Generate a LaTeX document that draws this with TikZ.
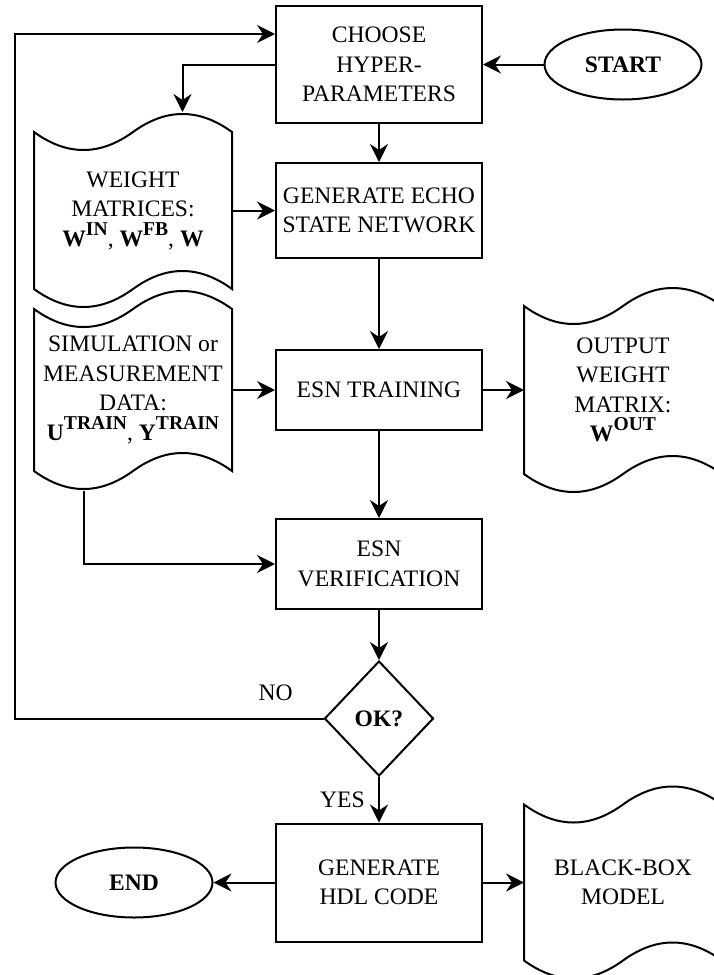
\documentclass[tikz,border=0pt]{standalone}
\usepackage{fontspec}
\setmainfont{Liberation Serif}
\usetikzlibrary{shapes.geometric,arrows.meta,calc}

% wavy document outline round a node
\newcommand{\tapepath}[1]{%
	\draw let \p1=(#1.north west), \p2=(#1.south east),
		\n1={\x2-\x1}, \n2={10pt}, \n3={12pt} in
		(\x1,\y1-\n2) .. controls (\x1+\n1/6,\y1-\n2-\n3) and (\x1+\n1/3,\y1-\n2-\n3) .. (\x1+\n1/2,\y1-\n2)
		.. controls (\x1+2*\n1/3,\y1-\n2+\n3) and (\x1+5*\n1/6,\y1-\n2+\n3) .. (\x2,\y1-\n2)
		-- (\x2,\y2+\n2)
		.. controls (\x1+5*\n1/6,\y2+\n2+\n3) and (\x1+2*\n1/3,\y2+\n2+\n3) .. (\x1+\n1/2,\y2+\n2)
		.. controls (\x1+\n1/3,\y2+\n2-\n3) and (\x1+\n1/6,\y2+\n2-\n3) .. (\x1,\y2+\n2)
		-- cycle;}
% bold matrix name with raised index
\newcommand{\mat}[2]{\textbf{#1}\raisebox{5.5pt}{\fontsize{9.8}{9.8}\selectfont\bfseries #2}}

\begin{document}
\begin{tikzpicture}[x=0.5pt,y=-0.5pt,
	font=\fontsize{11.8}{14.75}\selectfont,line width=1pt,
	>={Stealth[length=9pt,width=9pt,inset=3pt]},
	process/.style={draw,rectangle,minimum width=103pt,align=center,inner sep=1pt},
	terminal/.style={draw,ellipse,minimum width=78.5pt,minimum height=35pt,inner sep=0pt,
		font=\fontsize{11.8}{14.75}\selectfont\bfseries},
	decision/.style={draw,diamond,minimum width=54.5pt,minimum height=57.5pt,inner sep=0pt,
		font=\fontsize{11.8}{14.75}\selectfont\bfseries},
	tape/.style={minimum width=98pt,align=center,inner sep=0pt}]
	\useasboundingbox (0,0) rectangle (713,975);
	% Main column
	\node[process,minimum height=58.5pt] (choose) at (379,64.5) {CHOOSE\\HYPER-\\PARAMETERS};
	\node[process,minimum height=47.5pt] (generate) at (379,210.5) {GENERATE ECHO\\STATE NETWORK};
	\node[process,minimum height=40pt] (training) at (379,390) {ESN TRAINING};
	\node[process,minimum height=45pt] (verify) at (379,564) {ESN\\VERIFICATION};
	\node[decision] (ok) at (379,718.5) {OK?};
	\node[process,minimum height=59pt] (hdl) at (379,882.5) {GENERATE\\HDL CODE};
	% Start and end
	\node[terminal] (start) at (623,64.5) {START};
	\node[terminal] (finish) at (134,882.5) {END};
	% Data
	\node[tape,minimum height=97.5pt] (weights) at (133,210.5)
		{WEIGHT\\MATRICES:\\\mat{W}{IN}, \mat{W}{FB}, \textbf{W}};
	\node[tape,minimum height=100pt] (data) at (133,390)
		{SIMULATION or\\MEASUREMENT\\DATA:\\\mat{U}{TRAIN}, \mat{Y}{TRAIN}};
	\node[tape,minimum height=103pt] (wout) at (623,390)
		{OUTPUT\\WEIGHT\\MATRIX:\\\mat{W}{OUT}};
	\node[tape,minimum height=97pt] (model) at (623,882.5) {BLACK-BOX\\MODEL};
	\foreach \doc in {weights,data,wout,model} {\tapepath{\doc}}
	% Connectors
	\coordinate (loop) at (15,34);
	\draw[->] (ok.west) -- (ok.west -| loop) node[pos=0.155,above=5pt]{NO} |- (loop -| choose.west);
	\draw[->] (choose.west) -| ($(weights.north west)!0.75!(weights.north east)$);
	\draw[->] (start) -- (choose);
	\draw[->] (choose) -- (generate);
	\draw[->] (weights) -- (generate);
	\draw[->] (generate) -- (training);
	\draw[->] (data) -- (training);
	\draw[->] (training) -- (wout);
	\draw[->] (training) -- (verify);
	\draw[->] ($(data.south west)!0.25!(data.south east)$) |- (verify.west);
	\draw[->] (verify) -- (ok);
	\draw[->] (ok) -- node[left=3.3pt]{YES} (hdl);
	\draw[->] (hdl) -- (finish);
	\draw[->] (hdl) -- (model);
\end{tikzpicture}
\end{document}
